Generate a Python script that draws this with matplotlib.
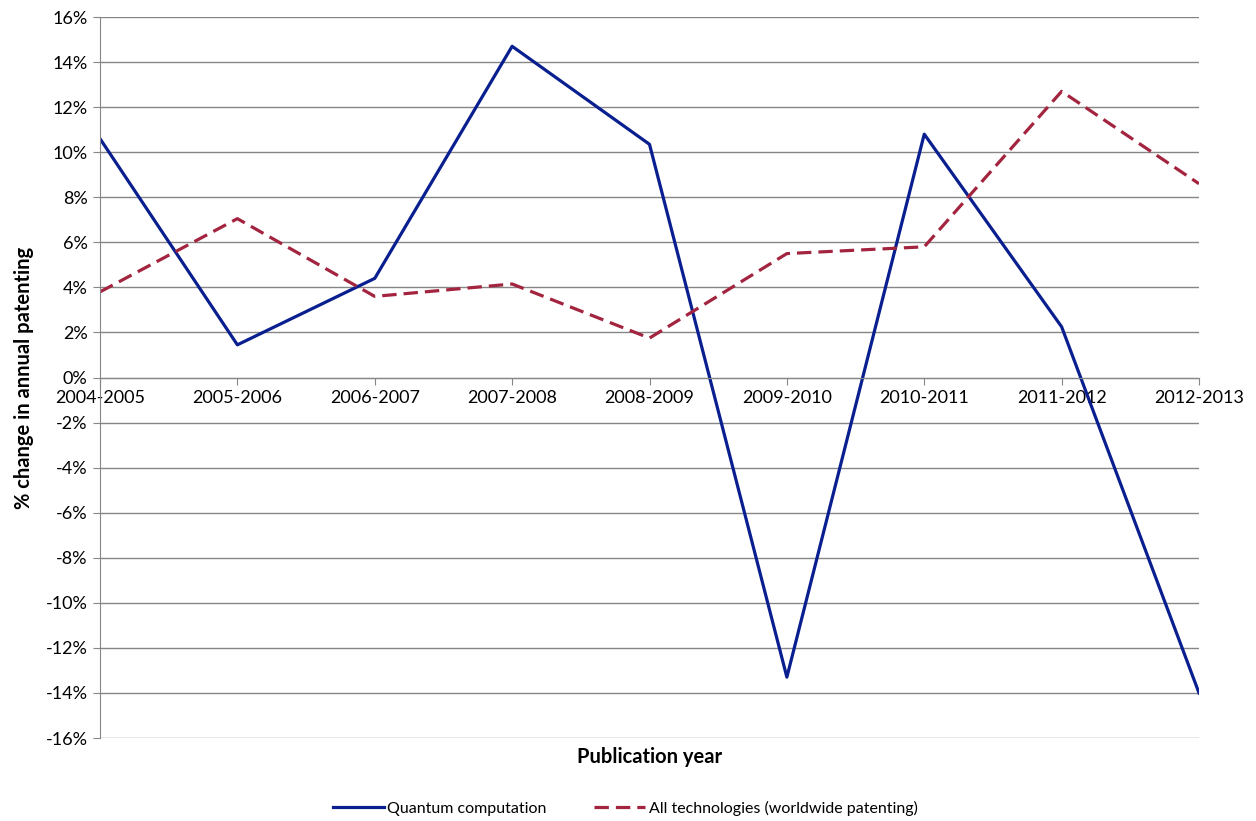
import matplotlib.pyplot as plt
import numpy as np
from matplotlib.ticker import FuncFormatter

plt.rcParams['font.family'] = ['Lato', 'DejaVu Sans']

years = ['2004-2005', '2005-2006', '2006-2007', '2007-2008', '2008-2009',
         '2009-2010', '2010-2011', '2011-2012', '2012-2013']
quantum = [10.6, 1.45, 4.4, 14.7, 10.35, -13.3, 10.8, 2.25, -14.0]
all_tech = [3.8, 7.05, 3.6, 4.15, 1.75, 5.5, 5.8, 12.7, 8.6]

fig = plt.figure(figsize=(12.56, 8.21), dpi=100)
ax = fig.add_axes([100 / 1256, 1 - 738 / 821, 1099 / 1256, 721 / 821])

x = np.arange(len(years))
ax.plot(x, quantum, color='#0a1f8f', lw=2.3, label='Quantum computation')
ax.plot(x, all_tech, color='#a3243f', lw=2.3, ls=(0, (4.5, 2.2)),
        label='All technologies (worldwide patenting)')

ax.set_xlim(0, len(years) - 1)
ax.set_ylim(-16, 16)
ax.set_yticks(np.arange(-16, 17, 2))
ax.yaxis.set_major_formatter(FuncFormatter(lambda v, p: f'{v:.0f}%'))
ax.grid(axis='y', color='#868686', lw=1)
ax.set_axisbelow(True)

# category axis crosses at 0%
ax.spines['bottom'].set_position(('data', 0))
ax.spines['bottom'].set_color('#868686')
ax.spines['left'].set_color('#868686')
ax.spines['top'].set_visible(False)
ax.spines['right'].set_visible(False)
ax.set_xticks(x)
ax.set_xticklabels(years)
ax.tick_params(axis='x', length=5, color='#868686', labelsize=13, pad=4)
ax.tick_params(axis='y', length=5, color='#868686', labelsize=13, pad=4)

ax.set_ylabel('% change in annual patenting', fontsize=14.5, fontweight='bold', labelpad=8)
fig.text(650 / 1256, 1 - 757 / 821, 'Publication year', ha='center', va='center',
         fontsize=14.5, fontweight='bold')

fig.legend(loc='center', bbox_to_anchor=(625 / 1256, 1 - 808 / 821), ncol=2,
           frameon=False, fontsize=11.5, handlelength=3.2, columnspacing=3,
           handletextpad=0.2)

fig.savefig('out.png', dpi=100)
